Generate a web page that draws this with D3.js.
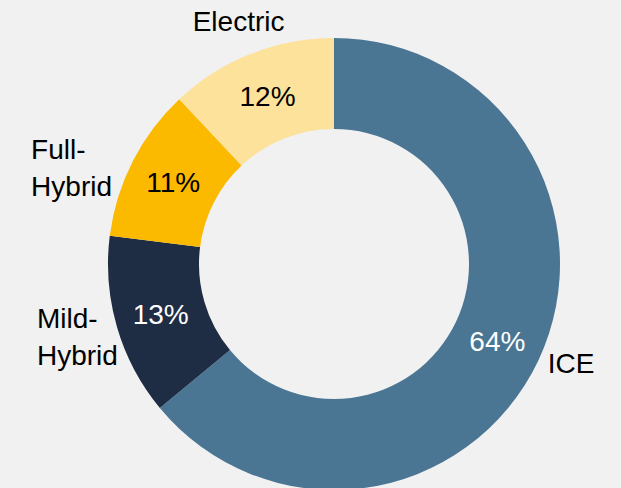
<!DOCTYPE html>
<html>
<head>
<meta charset="utf-8">
<script src="https://cdn.jsdelivr.net/npm/d3@7"></script>
<style>
  html, body { margin: 0; padding: 0; background: #f1f1f1; }
  svg { display: block; font-family: "Liberation Sans", Arial, sans-serif; }
</style>
</head>
<body>
<svg id="chart" width="621" height="488"></svg>
<script>
// Data
const categories = ["ICE", "Mild-Hybrid", "Full-Hybrid", "Electric"];
const labelLines = [["ICE"], ["Mild-", "Hybrid"], ["Full-", "Hybrid"], ["Electric"]];
const values = [64, 13, 11, 12];
const percentLabels = ["64%", "13%", "11%", "12%"];
const colors = ["#4a7694", "#1e2c44", "#fbb900", "#fde29c"];
const percentColors = ["#ffffff", "#ffffff", "#000000", "#000000"];

// Layout
const W = 621, H = 488;
const cx = 334, cy = 264;
const outerR = 226, innerR = 135;
const labelR = 262;
const fontSize = 28, lineH = 37;
const nudges = [[0, -12], [-5, 0], [-29, 23], [1, 1]]; // outer label placement tweaks
const alignLeft = [false, true, true, false];

const svg = d3.select("#chart");
svg.append("rect").attr("width", W).attr("height", H).attr("fill", "#f1f1f1");

const pie = d3.pie().sort(null).value(d => d);
const arcs = pie(values);
const arc = d3.arc().innerRadius(innerR).outerRadius(outerR);
const labelArc = d3.arc().innerRadius(labelR).outerRadius(labelR);

const g = svg.append("g").attr("transform", `translate(${cx},${cy})`);

g.selectAll("path.slice")
  .data(arcs)
  .join("path")
  .attr("class", "slice")
  .attr("d", arc)
  .attr("fill", (d, i) => colors[i]);

// Percent labels
g.selectAll("text.pct")
  .data(arcs)
  .join("text")
  .attr("class", "pct")
  .attr("transform", d => `translate(${arc.centroid(d)})`)
  .attr("text-anchor", "middle")
  .attr("dy", "0.35em")
  .attr("font-size", fontSize)
  .attr("fill", (d, i) => percentColors[i])
  .text((d, i) => percentLabels[i]);

// Category labels outside
arcs.forEach((d, i) => {
  const [px, py] = labelArc.centroid(d);
  const x0 = px + nudges[i][0], y0 = py + nudges[i][1];
  const lines = labelLines[i];
  const t = g.append("text")
    .attr("font-size", fontSize)
    .attr("fill", "#000");
  const tspans = lines.map((ln, k) => t.append("tspan").text(ln));
  const widths = tspans.map(ts => ts.node().getComputedTextLength());
  const maxW = d3.max(widths);
  const totalH = (lines.length - 1) * lineH;
  tspans.forEach((ts, k) => {
    const y = y0 - totalH / 2 + k * lineH;
    if (alignLeft[i]) {
      ts.attr("x", x0 - maxW / 2).attr("text-anchor", "start");
    } else {
      ts.attr("x", x0).attr("text-anchor", "middle");
    }
    ts.attr("y", y).attr("dy", "0.35em");
  });
});
</script>
</body>
</html>
